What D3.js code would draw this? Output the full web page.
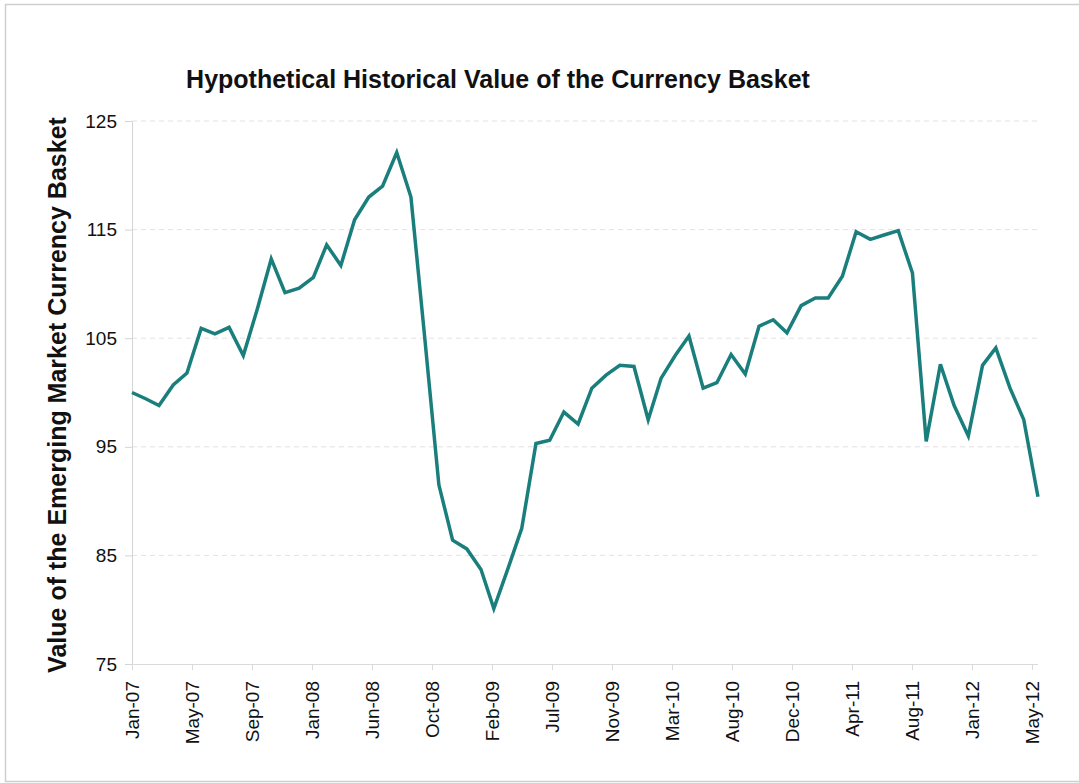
<!DOCTYPE html>
<html>
<head>
<meta charset="utf-8">
<script src="https://cdn.jsdelivr.net/npm/d3@7"></script>
<style>
  body { margin: 0; background: #fff; }
  svg { display: block; font-family: "Liberation Sans", Arial, sans-serif; }
</style>
</head>
<body>
<div id="chart"></div>
<script>
// monthly observations, Jan-07 .. Jun-12
const firstMonth = new Date(2007, 0, 1);
const afterLast = new Date(2012, 6, 1);
const basketValues = [
  100.0, 99.4, 98.8, 100.7, 101.8, 105.9, 105.4, 106.0, 103.4, 107.6, 112.3, 109.2,
  109.6, 110.6, 113.6, 111.7, 115.9, 118.0, 119.0, 122.1, 118.0, 105.1, 91.5, 86.4,
  85.6, 83.7, 80.1, 83.8, 87.5, 95.3, 95.6, 98.2, 97.1, 100.4, 101.6, 102.5,
  102.4, 97.5, 101.3, 103.4, 105.2, 100.4, 100.9, 103.5, 101.7, 106.1, 106.7, 105.5,
  108.0, 108.7, 108.7, 110.7, 114.8, 114.1, 114.5, 114.9, 111.0, 95.5, 102.6, 98.8,
  96.0, 102.5, 104.1, 100.4, 97.5, 90.4
];
// date axis: major unit of 131 days starting at Jan 1 2007
const tickStepDays = 131;
const tickLabels = ['Jan-07', 'May-07', 'Sep-07', 'Jan-08', 'Jun-08', 'Oct-08', 'Feb-09', 'Jul-09',
  'Nov-09', 'Mar-10', 'Aug-10', 'Dec-10', 'Apr-11', 'Aug-11', 'Jan-12', 'May-12'];
const yTicks = [75, 85, 95, 105, 115, 125];

const title = 'Hypothetical Historical Value of the Currency Basket';
const yTitle = 'Value of the Emerging Market Currency Basket';

const width = 1079, height = 783;
const margin = { top: 121, right: 47, bottom: 119, left: 132 };
const plotW = 1032 - margin.left;
const plotH = height - margin.top - margin.bottom;

const months = d3.timeMonth.range(firstMonth, afterLast);
const data = months.map((d, i) => ({ date: d, value: basketValues[i] }));
const tickDates = tickLabels.map((l, i) => d3.timeDay.offset(firstMonth, i * tickStepDays));

const svg = d3.select('#chart').append('svg')
  .attr('width', width)
  .attr('height', height);

// outer frame
svg.append('rect')
  .attr('x', 5.5).attr('y', 4.5)
  .attr('width', 1090).attr('height', 777)
  .attr('fill', 'none')
  .attr('stroke', '#cfcfcf')
  .attr('stroke-width', 1.5);

const x = d3.scaleTime()
  .domain([firstMonth, tickDates[tickDates.length - 1]])
  .range([0, plotW]);
const y = d3.scaleLinear()
  .domain([75, 125])
  .range([plotH, 0]);

const g = svg.append('g')
  .attr('transform', `translate(${margin.left},${margin.top})`);

// gridlines
g.append('g')
  .selectAll('line')
  .data(yTicks.slice(1))
  .join('line')
  .attr('x1', 0).attr('x2', 908)
  .attr('y1', d => y(d)).attr('y2', d => y(d))
  .attr('stroke', '#e2e2e2')
  .attr('stroke-width', 1)
  .attr('stroke-dasharray', '5,4');

// y axis
const yAxis = d3.axisLeft(y).tickValues(yTicks).tickSize(7).tickPadding(8);
const yG = g.append('g').call(yAxis);
yG.select('.domain').attr('stroke', '#d4d4d4');
yG.selectAll('.tick line').attr('stroke', '#d4d4d4');
yG.selectAll('.tick text')
  .attr('fill', '#111')
  .style('font-size', '19px');

// x axis
const xAxis = d3.axisBottom(x)
  .tickValues(tickDates)
  .tickFormat((d, i) => tickLabels[i])
  .tickSize(6)
  .tickSizeOuter(0);
const xG = g.append('g')
  .attr('transform', `translate(0,${plotH})`)
  .call(xAxis);
xG.select('.domain').attr('stroke', '#dadada').attr('d', `M0.5,0.5H${plotW + 6}`);
xG.selectAll('.tick line').attr('stroke', '#dadada');
xG.selectAll('.tick text')
  .attr('fill', '#111')
  .style('font-size', '19px')
  .attr('transform', 'rotate(-90)')
  .attr('text-anchor', 'end')
  .attr('x', -17)
  .attr('y', 0)
  .attr('dy', '0.35em');

// series
const line = d3.line()
  .x(d => x(d.date))
  .y(d => y(d.value));
g.append('path')
  .datum(data)
  .attr('fill', 'none')
  .attr('stroke', '#1a7f7c')
  .attr('stroke-width', 3.5)
  .attr('stroke-linejoin', 'miter')
  .attr('d', line);

// titles
svg.append('text')
  .attr('x', 498)
  .attr('y', 88)
  .attr('text-anchor', 'middle')
  .style('font-size', '25px')
  .style('font-weight', 'bold')
  .attr('fill', '#111')
  .text(title);

svg.append('text')
  .attr('transform', `translate(66,${395}) rotate(-90)`)
  .attr('text-anchor', 'middle')
  .style('font-size', '25px')
  .style('font-weight', 'bold')
  .attr('fill', '#111')
  .text(yTitle);
</script>
</body>
</html>
